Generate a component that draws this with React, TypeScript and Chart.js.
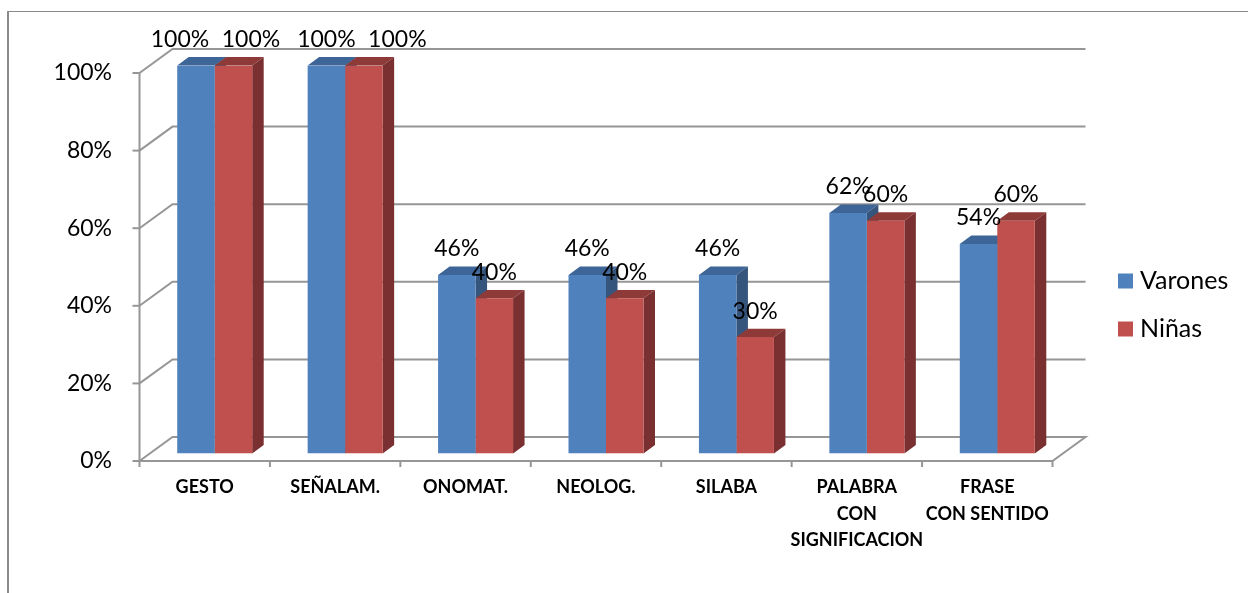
import React, { useEffect, useRef } from 'react';
import { Chart, registerables } from 'chart.js';

Chart.register(...registerables);

// ---------- data ----------
const categories: (string | string[])[] = [
  'GESTO',
  'SEÑALAM.',
  'ONOMAT.',
  'NEOLOG.',
  'SILABA',
  ['PALABRA', 'CON', 'SIGNIFICACION'],
  ['FRASE', 'CON SENTIDO'],
];
const seriesNames = ['Varones', 'Niñas'];
const varones = [100, 100, 46, 46, 46, 62, 54];
const ninas = [100, 100, 40, 40, 30, 60, 60];
const yMin = 0;
const yMax = 100;
const yStep = 20;

// ---------- styles ----------
const FONT = 'Lato, "Open Sans", "Noto Sans", sans-serif';
const W = 1248;
const H = 593;
const AREA = { left: 149.5, right: 1062.5, top: 65.5, bottom: 453.5 };
const FRONT = { dx: -10, dy: 7.5 };
const BACK = { dx: 23, dy: -16.5 };
const DEPTH = { dx: 11.5, dy: -8.4 };
const GRID = '#969696';
const FACE = [
  { front: '#4F81BD', top: '#3D6597', side: '#36557D' },
  { front: '#C0504D', top: '#8E3A38', side: '#7A3030' },
];

const fake3d = {
  id: 'fake3d',
  beforeDatasetsDraw(chart: any) {
    const ctx = chart.ctx;
    const { left, right } = chart.chartArea;
    const ys = chart.scales.y;
    const xs = chart.scales.x;
    ctx.save();
    ctx.strokeStyle = GRID;
    ctx.lineWidth = 2;
    ctx.lineJoin = 'miter';
    ys.ticks.forEach((t: any) => {
      const py = ys.getPixelForValue(t.value);
      ctx.beginPath();
      ctx.moveTo(left + FRONT.dx, py + FRONT.dy);
      ctx.lineTo(left + BACK.dx, py + BACK.dy);
      ctx.lineTo(right + BACK.dx, py + BACK.dy);
      if (t.value === ys.min) {
        ctx.lineTo(right + FRONT.dx, py + FRONT.dy);
        ctx.closePath();
      }
      ctx.stroke();
      ctx.beginPath();
      ctx.moveTo(left + FRONT.dx - 7, py + FRONT.dy);
      ctx.lineTo(left + FRONT.dx, py + FRONT.dy);
      ctx.stroke();
    });
    // front vertical axis
    const yTop = ys.getPixelForValue(ys.max);
    const yBot = ys.getPixelForValue(ys.min);
    ctx.beginPath();
    ctx.moveTo(left + FRONT.dx, yTop + FRONT.dy);
    ctx.lineTo(left + FRONT.dx, yBot + FRONT.dy);
    ctx.stroke();
    // category ticks
    const n = chart.data.labels.length;
    for (let i = 0; i <= n; i++) {
      const px = xs.getPixelForValue(i - 0.5) + FRONT.dx;
      ctx.beginPath();
      ctx.moveTo(px, yBot + FRONT.dy);
      ctx.lineTo(px, yBot + FRONT.dy + 6);
      ctx.stroke();
    }
    // top and side faces of bars
    chart.data.datasets.forEach((ds: any, di: number) => {
      const meta = chart.getDatasetMeta(di);
      const col = FACE[di % FACE.length];
      meta.data.forEach((el: any) => {
        const p = el.getProps(['x', 'y', 'base', 'width'], true);
        const l = p.x - p.width / 2;
        const r = p.x + p.width / 2;
        ctx.fillStyle = col.top;
        ctx.beginPath();
        ctx.moveTo(l, p.y);
        ctx.lineTo(r, p.y);
        ctx.lineTo(r + DEPTH.dx, p.y + DEPTH.dy);
        ctx.lineTo(l + DEPTH.dx, p.y + DEPTH.dy);
        ctx.closePath();
        ctx.fill();
        ctx.fillStyle = col.side;
        ctx.beginPath();
        ctx.moveTo(r, p.y);
        ctx.lineTo(r + DEPTH.dx, p.y + DEPTH.dy);
        ctx.lineTo(r + DEPTH.dx, p.base + DEPTH.dy);
        ctx.lineTo(r, p.base);
        ctx.closePath();
        ctx.fill();
      });
    });
    ctx.restore();
  },
  afterDatasetsDraw(chart: any) {
    const ctx = chart.ctx;
    ctx.save();
    ctx.font = `23px ${FONT}`;
    ctx.fillStyle = '#000';
    ctx.textAlign = 'center';
    ctx.textBaseline = 'middle';
    const n = chart.data.labels.length;
    const metas = chart.data.datasets.map((_: any, i: number) => chart.getDatasetMeta(i));
    const groups: any[][] = [];
    for (let c = 0; c < n; c++) {
      const items = metas.map((m: any, di: number) => {
        const el = m.data[c];
        const v = chart.data.datasets[di].data[c];
        const text = `${v}%`;
        return { x: el.x, y: el.y - 26, text, w: ctx.measureText(text).width };
      });
      // labels of one category sitting on the same line: push the right one aside
      for (let i = 0; i < items.length - 1; i++) {
        const a = items[i];
        const b = items[i + 1];
        const minDist = (a.w + b.w) / 2 + 12.5;
        if (Math.abs(a.y - b.y) < 3 && b.x - a.x < minDist) b.x = a.x + minDist;
      }
      groups.push(items);
    }
    // keep neighbouring categories' labels apart
    for (let c = n - 2; c >= 0; c--) {
      const a = groups[c][groups[c].length - 1];
      const b = groups[c + 1][0];
      if (Math.abs(a.y - b.y) < 3) {
        const deficit = a.x + a.w / 2 + 17 - (b.x - b.w / 2);
        if (deficit > 0) groups[c].forEach((it: any) => (it.x -= deficit));
      }
    }
    groups.forEach((items) => items.forEach((it: any) => ctx.fillText(it.text, it.x, it.y)));
    ctx.restore();
  },
  afterDraw(chart: any) {
    const ctx = chart.ctx;
    const { right } = chart.chartArea;
    ctx.save();
    ctx.font = `25px ${FONT}`;
    ctx.textBaseline = 'middle';
    ctx.textAlign = 'left';
    chart.data.datasets.forEach((ds: any, i: number) => {
      const cy = 281 + i * 48;
      ctx.fillStyle = ds.backgroundColor;
      ctx.fillRect(right + 55.5, cy - 7.5, 15, 15);
      ctx.fillStyle = '#000';
      ctx.fillText(ds.label, right + 77.5, cy);
    });
    ctx.restore();
  },
};

export default function App() {
  const ref = useRef<HTMLCanvasElement>(null);
  useEffect(() => {
    if (!ref.current) return;
    const chart = new Chart(ref.current, {
      type: 'bar',
      data: {
        labels: categories as any,
        datasets: [
          {
            label: seriesNames[0],
            data: varones,
            backgroundColor: FACE[0].front,
            borderWidth: 0,
            categoryPercentage: 0.575,
            barPercentage: 1,
          },
          {
            label: seriesNames[1],
            data: ninas,
            backgroundColor: FACE[1].front,
            borderWidth: 0,
            categoryPercentage: 0.575,
            barPercentage: 1,
          },
        ],
      },
      options: {
        responsive: false,
        animation: false,
        devicePixelRatio: 1,
        layout: { padding: { left: 0, right: W - AREA.right, top: AREA.top, bottom: 0 } },
        plugins: { legend: { display: false }, tooltip: { enabled: false } },
        scales: {
          x: {
            grid: { display: false, drawTicks: false },
            border: { display: false },
            ticks: {
              autoSkip: false,
              maxRotation: 0,
              minRotation: 0,
              color: '#000',
              font: { family: FONT, size: 18, weight: 'bold', lineHeight: '26.5px' },
              padding: 20.75,
              labelOffset: FRONT.dx,
            },
            afterFit: (s: any) => {
              s.height = H - AREA.bottom;
            },
          },
          y: {
            min: yMin,
            max: yMax,
            grid: { display: false, drawTicks: false },
            border: { display: false },
            ticks: {
              stepSize: yStep,
              color: '#000',
              font: { family: FONT, size: 23 },
              padding: 37.5,
              labelOffset: FRONT.dy,
              callback: (v: any) => `${v}%`,
            },
            afterFit: (s: any) => {
              s.width = AREA.left;
            },
          },
        },
      },
      plugins: [fake3d],
    });
    return () => chart.destroy();
  }, []);

  return (
    <div
      style={{
        position: 'fixed',
        left: 0,
        top: 0,
        width: W,
        height: H,
        overflow: 'hidden',
        background: '#fff',
      }}
    >
      <div
        style={{
          position: 'absolute',
          left: 7,
          top: 11,
          width: 1400,
          height: 800,
          borderLeft: '2px solid #8a8a8a',
          borderTop: '1px solid #8a8a8a',
        }}
      />
      <canvas
        ref={ref}
        width={W}
        height={H}
        style={{ position: 'absolute', left: 0, top: 0, width: W, height: H }}
      />
    </div>
  );
}
